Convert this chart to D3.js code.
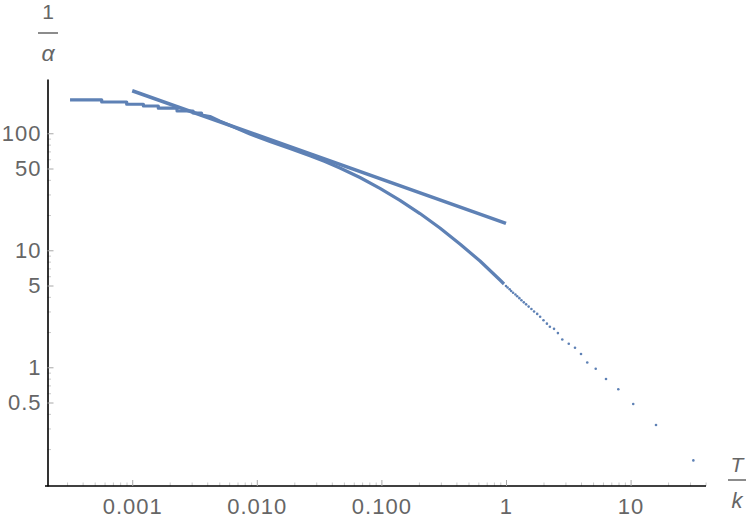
<!DOCTYPE html>
<html>
<head>
<meta charset="utf-8">
<script src="https://cdn.jsdelivr.net/npm/d3@7"></script>
<style>
	body { margin: 0; background: #fff; }
	svg text { font-family: "Liberation Sans", Arial, sans-serif; fill: #666; }
</style>
</head>
<body>
<svg id="chart"></svg>
<script>
// dense part of the data (points overlap into a band)
var denseT = [0.000317, 0.000569, 0.000569, 0.000903, 0.000903, 0.00123, 0.00123, 0.00162, 0.00162, 0.00229, 0.00229, 0.00308, 0.00308, 0.00360, 0.00360, 0.00421,
	0.00507, 0.00882, 0.01276, 0.01847, 0.02673, 0.03527, 0.0465, 0.0673, 0.0974, 0.141, 0.204, 0.295, 0.427, 0.619, 0.895, 0.964];
var denseInvAlpha = [193, 193, 185, 185, 177, 177, 171, 171, 164, 164, 155, 155, 149, 149, 143, 139,
	127, 98.6, 85.1, 74.1, 64.2, 57.4, 50.5, 41.9, 33.8, 26.7, 20.6, 15.5, 11.3, 8.10, 5.57, 5.15];

// separate points on the right
var pointT = [1.0, 1.03, 1.07, 1.10, 1.14, 1.19, 1.23, 1.28, 1.33, 1.39, 1.45, 1.52, 1.60, 1.68, 1.78, 1.88, 2.0, 2.13,
	2.25, 2.43, 2.61, 2.83, 3.19, 3.58, 4.0, 4.49, 5.25, 6.35, 7.97, 10.5, 16.0, 31.9];
var pointInvAlpha = [4.95, 4.81, 4.65, 4.49, 4.33, 4.19, 4.05, 3.90, 3.74, 3.59, 3.45, 3.30, 3.15, 3.00, 2.86, 2.70, 2.52, 2.36,
	2.22, 2.13, 1.96, 1.73, 1.59, 1.47, 1.30, 1.10, 0.973, 0.794, 0.649, 0.486, 0.321, 0.160];

// fitted power law line
var fitT = [0.001, 1];
var fitInvAlpha = [231, 17.0];

var xTickValues = [0.001, 0.01, 0.1, 1, 10];
var xTickLabels = ["0.001", "0.010", "0.100", "1", "10"];
var yTickValues = [0.5, 1, 5, 10, 50, 100];
var yTickLabels = ["0.5", "1", "5", "10", "50", "100"];

var width = 750, height = 523;
var margin = { top: 79, right: 44, bottom: 37, left: 47.5 };
var color = "#5e81b5";

var svg = d3.select("#chart")
	.attr("width", width)
	.attr("height", height);

var xScale = d3.scaleLog().domain([0.000209, 40.3]).range([margin.left, width - margin.right]);
var yScale = d3.scaleLog().domain([0.0967, 291]).range([height - margin.bottom, margin.top]);

// minor ticks at 2..9 x 10^n inside the domain
function minorTicks(scale, skip) {
	var dom = scale.domain(), out = [];
	for (var e = -5; e <= 3; e++) {
		for (var m = 2; m <= 9; m++) {
			var v = m * Math.pow(10, e);
			if (v >= dom[0] && v <= dom[1] && skip.indexOf(+v.toPrecision(3)) < 0) out.push(v);
		}
	}
	return out;
}

var xMinor = svg.append("g")
	.attr("class", "xMinor")
	.attr("transform", "translate(0," + (height - margin.bottom) + ")")
	.call(d3.axisBottom(xScale).tickValues(minorTicks(xScale, [])).tickSizeInner(-3.5).tickSizeOuter(0).tickFormat(""));
xMinor.select(".domain").remove();
xMinor.selectAll("line").attr("stroke", "#c8c8c8");

var yMinor = svg.append("g")
	.attr("class", "yMinor")
	.attr("transform", "translate(" + margin.left + ",0)")
	.call(d3.axisLeft(yScale).tickValues(minorTicks(yScale, yTickValues).filter(function(d) { return d < 110; })).tickSizeInner(-3.5).tickSizeOuter(0).tickFormat(""));
yMinor.select(".domain").remove();
yMinor.selectAll("line").attr("stroke", "#c8c8c8");

var xAxis = svg.append("g")
	.attr("class", "xAxis")
	.attr("transform", "translate(0," + (height - margin.bottom) + ")")
	.call(d3.axisBottom(xScale).tickValues(xTickValues).tickSizeInner(-6).tickSizeOuter(0).tickPadding(12)
		.tickFormat(function(d, i) { return xTickLabels[i]; }));

var yAxis = svg.append("g")
	.attr("class", "yAxis")
	.attr("transform", "translate(" + margin.left + ",0)")
	.call(d3.axisLeft(yScale).tickValues(yTickValues).tickSizeInner(-6).tickSizeOuter(0).tickPadding(6)
		.tickFormat(function(d, i) { return yTickLabels[i]; }));

[xAxis, yAxis].forEach(function(a) {
	a.select(".domain").attr("stroke", "#000").attr("stroke-width", 1.6);
	a.selectAll(".tick line").attr("stroke", "#a8a8a8");
	a.selectAll(".tick text")
		.attr("fill", "#666")
		.style("font-size", "22px")
		.style("letter-spacing", "1px")
		.style("font-family", "'Liberation Sans', Arial, sans-serif");
});
// the horizontal axis sticks out a little to the left of the vertical one
xAxis.select(".domain").attr("d", "M" + (margin.left - 2.5) + ",0H" + (width - margin.right));

// data
var line = d3.line()
	.x(function(d) { return xScale(d[0]); })
	.y(function(d) { return yScale(d[1]); });

svg.append("path")
	.datum(denseT.map(function(t, i) { return [t, denseInvAlpha[i]]; }))
	.attr("fill", "none")
	.attr("stroke", color)
	.attr("stroke-width", 3.2)
	.attr("stroke-linejoin", "round")
	.attr("d", line);

svg.selectAll(".point")
	.data(pointT.map(function(t, i) { return [t, pointInvAlpha[i]]; }))
	.enter()
	.append("circle")
	.attr("class", "point")
	.attr("cx", function(d) { return xScale(d[0]); })
	.attr("cy", function(d) { return yScale(d[1]); })
	.attr("r", 1.3)
	.attr("fill", color);

svg.append("path")
	.datum(fitT.map(function(t, i) { return [t, fitInvAlpha[i]]; }))
	.attr("fill", "none")
	.attr("stroke", color)
	.attr("stroke-width", 3.5)
	.attr("d", line);

// axis labels as fractions
var ia = svg.append("g");
ia.append("text").attr("x", 48).attr("y", 19).attr("text-anchor", "middle")
	.style("font-size", "21px").text("1");
ia.append("line").attr("x1", 38).attr("x2", 58).attr("y1", 33).attr("y2", 33)
	.attr("stroke", "#666").attr("stroke-width", 1.5);
ia.append("text").attr("x", 48).attr("y", 61).attr("text-anchor", "middle")
	.style("font-size", "23px").style("font-style", "italic").text("α");

var tk = svg.append("g");
tk.append("text").attr("x", 737).attr("y", 472).attr("text-anchor", "middle")
	.style("font-size", "21px").style("font-style", "italic").text("T");
tk.append("line").attr("x1", 728).attr("x2", 746).attr("y1", 480).attr("y2", 480)
	.attr("stroke", "#666").attr("stroke-width", 1.5);
tk.append("text").attr("x", 737).attr("y", 508).attr("text-anchor", "middle")
	.style("font-size", "22px").style("font-style", "italic").text("k");
</script>
</body>
</html>
